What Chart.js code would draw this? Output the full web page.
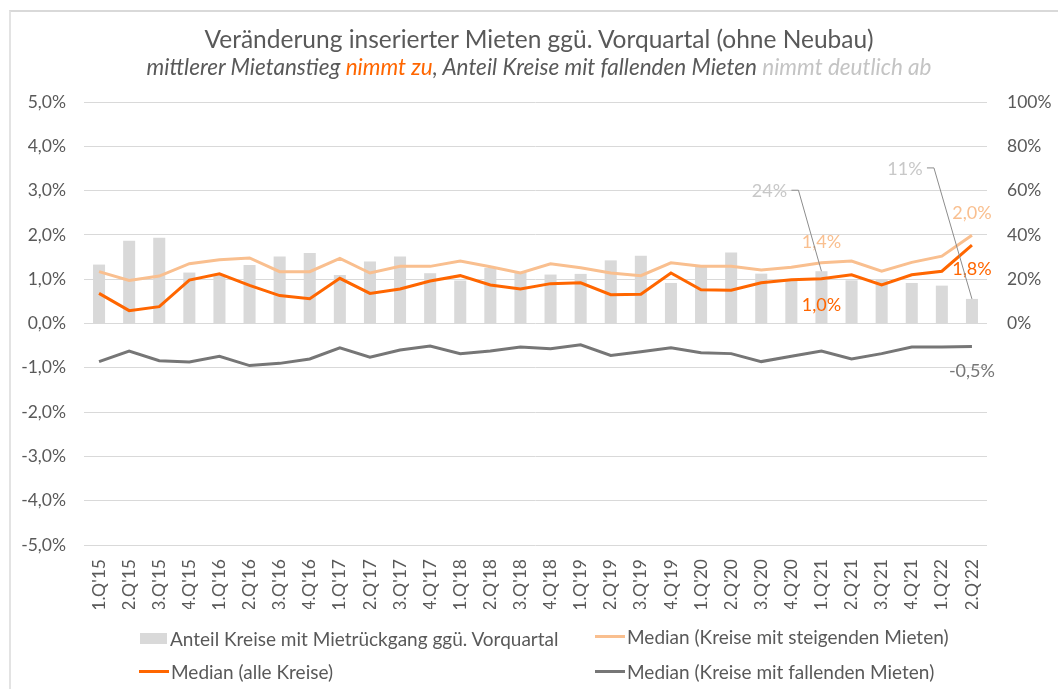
<!DOCTYPE html>
<html lang="de">
<head>
<meta charset="utf-8">
<script src="https://cdn.jsdelivr.net/npm/chart.js@4.4.0/dist/chart.umd.min.js"></script>
<style>
  html, body { margin: 0; padding: 0; background: #fff; }
  body { width: 1058px; height: 689px; position: relative; overflow: hidden; font-family: Lato, "Open Sans", sans-serif; color: #595959; }
  #frame { position: absolute; left: 9px; top: 10px; width: 1200px; height: 800px; border-left: 2px solid #e3e3e3; border-top: 2px solid #d9d9d9; }
  #wrap { position: absolute; left: 0; top: 0; width: 1058px; height: 689px; }
  .title { position: absolute; left: 0; width: 1078px; text-align: center; white-space: nowrap; }
  #t1 { top: 24px; font-size: 24.5px; }
  #t2 { top: 53px; font-size: 22.5px; font-style: italic; }
  .legend { position: absolute; font-size: 19px; white-space: nowrap; display: flex; align-items: center; height: 22px; }
  .sw-bar { width: 27px; height: 11px; background: #d9d9d9; margin-right: 3px; }
  .sw-line { width: 30px; height: 3px; margin-right: 2px; }
</style>
</head>
<body>
<div id="frame"></div>
<div id="wrap"><canvas id="rentChart" width="1058" height="689"></canvas></div>
<div class="title" id="t1">Veränderung inserierter Mieten ggü. Vorquartal (ohne Neubau)</div>
<div class="title" id="t2">mittlerer Mietanstieg <span style="color:#ff6600">nimmt zu</span>, Anteil Kreise mit fallenden Mieten <span style="color:#c4c4c4">nimmt deutlich ab</span></div>
<div class="legend" style="left:140px; top:627px;"><div class="sw-bar"></div>Anteil Kreise mit Mietrückgang ggü. Vorquartal</div>
<div class="legend" style="left:595px; top:625px;"><div class="sw-line" style="background:#f9bf8f"></div>Median (Kreise mit steigenden Mieten)</div>
<div class="legend" style="left:139px; top:660px;"><div class="sw-line" style="background:#ff6600"></div>Median (alle Kreise)</div>
<div class="legend" style="left:595px; top:660px;"><div class="sw-line" style="background:#767676"></div>Median (Kreise mit fallenden Mieten)</div>
<script>
// Quartale 1.Q'15 bis 2.Q'22
const quarters = [
  "1.Q'15", "2.Q'15", "3.Q'15", "4.Q'15", "1.Q'16", "2.Q'16", "3.Q'16", "4.Q'16",
  "1.Q'17", "2.Q'17", "3.Q'17", "4.Q'17", "1.Q'18", "2.Q'18", "3.Q'18", "4.Q'18",
  "1.Q'19", "2.Q'19", "3.Q'19", "4.Q'19", "1.Q'20", "2.Q'20", "3.Q'20", "4.Q'20",
  "1.Q'21", "2.Q'21", "3.Q'21", "4.Q'21", "1.Q'22", "2.Q'22"
];

// Anteil Kreise mit Mietrückgang (%), rechte Achse
const shareFalling = [
  26.6, 37.4, 38.7, 23.0, 22.0, 26.4, 30.3, 31.8, 21.9, 28.0,
  30.2, 22.7, 19.4, 25.1, 23.1, 22.1, 22.4, 28.5, 30.6, 18.3,
  25.8, 32.0, 22.5, 19.8, 23.6, 19.5, 20.0, 18.3, 17.1, 11.1
];

// Median Kreise mit steigenden Mieten (%)
const medianRising = [
  1.17, 0.97, 1.07, 1.35, 1.44, 1.48, 1.17, 1.17, 1.47, 1.14,
  1.29, 1.29, 1.41, 1.28, 1.14, 1.35, 1.26, 1.14, 1.08, 1.37,
  1.29, 1.29, 1.21, 1.27, 1.37, 1.41, 1.18, 1.38, 1.52, 1.99
];

// Median alle Kreise (%)
const medianAll = [
  0.68, 0.29, 0.38, 0.98, 1.12, 0.86, 0.63, 0.56, 1.02, 0.68,
  0.78, 0.96, 1.08, 0.87, 0.78, 0.90, 0.92, 0.65, 0.66, 1.14,
  0.76, 0.75, 0.92, 0.99, 1.01, 1.10, 0.87, 1.10, 1.18, 1.77
];

// Median Kreise mit fallenden Mieten (%)
const medianFalling = [
  -0.86, -0.62, -0.84, -0.87, -0.74, -0.95, -0.90, -0.80, -0.55, -0.76,
  -0.60, -0.51, -0.68, -0.62, -0.53, -0.57, -0.48, -0.72, -0.64, -0.55,
  -0.66, -0.68, -0.86, -0.74, -0.62, -0.80, -0.68, -0.53, -0.53, -0.52
];

const COLORS = {
  text: "#595959",
  grid: "#d9d9d9",
  bar: "#d9d9d9",
  rising: "#f9bf8f",
  all: "#ff6600",
  falling: "#767676",
  barLabel: "#c8c8c8",
  leader: "#8c8c8c"
};

const FONT = "Lato, 'Open Sans', sans-serif";

function fmtPct(v, digits) {
  return v.toFixed(digits).replace(".", ",") + "%";
}

// Beschriftungen der letzten Werte bzw. 1.Q'21, direkt an den Datenpunkten
const labelPlugin = {
  id: "pointLabels",
  afterDatasetsDraw(chart) {
    const ctx = chart.ctx;
    const bars = chart.getDatasetMeta(0).data;
    const rise = chart.getDatasetMeta(1).data;
    const all = chart.getDatasetMeta(2).data;
    const fall = chart.getDatasetMeta(3).data;
    const last = quarters.length - 1;
    const mid = 24;

    ctx.save();
    ctx.font = "18px " + FONT;
    ctx.textAlign = "center";
    ctx.textBaseline = "middle";

    const txt = (s, x, y, col) => { ctx.fillStyle = col; ctx.fillText(s, x, y); };

    txt(fmtPct(medianRising[mid], 1), rise[mid].x, rise[mid].y - 21, COLORS.rising);
    txt(fmtPct(medianAll[mid], 1), all[mid].x, all[mid].y + 26, COLORS.all);
    txt(fmtPct(medianRising[last], 1), rise[last].x, rise[last].y - 22, COLORS.rising);
    txt(fmtPct(medianAll[last], 1), all[last].x, all[last].y + 24, COLORS.all);
    txt(fmtPct(medianFalling[last], 1), fall[last].x, fall[last].y + 25, COLORS.falling);

    // Balkenbeschriftungen mit Führungslinie
    const leader = (i, dx, dy) => {
      const b = bars[i];
      const lx = b.x + dx, ly = b.y + dy;
      txt(Math.round(shareFalling[i]) + "%", lx, ly, COLORS.barLabel);
      ctx.strokeStyle = COLORS.leader;
      ctx.lineWidth = 1;
      ctx.beginPath();
      ctx.moveTo(lx + 22, ly - 1);
      ctx.lineTo(lx + 29, ly - 1);
      ctx.lineTo(b.x, b.y);
      ctx.stroke();
    };
    leader(mid, -52, -80);
    leader(last, -67, -130);
    ctx.restore();
  }
};

const tickFont = { family: FONT, size: 17.5 };

new Chart(document.getElementById("rentChart").getContext("2d"), {
  type: "bar",
  data: {
    labels: quarters,
    datasets: [
      { type: "bar", label: "Anteil Kreise mit Mietrückgang ggü. Vorquartal", data: shareFalling, yAxisID: "y2",
        backgroundColor: COLORS.bar, categoryPercentage: 1, barPercentage: 0.4, order: 10 },
      { type: "line", label: "Median (Kreise mit steigenden Mieten)", data: medianRising, yAxisID: "y",
        borderColor: COLORS.rising, borderWidth: 3, pointRadius: 0, tension: 0, order: 3 },
      { type: "line", label: "Median (alle Kreise)", data: medianAll, yAxisID: "y",
        borderColor: COLORS.all, borderWidth: 3, pointRadius: 0, tension: 0, order: 1 },
      { type: "line", label: "Median (Kreise mit fallenden Mieten)", data: medianFalling, yAxisID: "y",
        borderColor: COLORS.falling, borderWidth: 3, pointRadius: 0, tension: 0, order: 2 }
    ]
  },
  options: {
    responsive: false,
    animation: false,
    layout: { padding: { top: 102, bottom: 80, left: 0, right: 0 } },
    plugins: {
      legend: { display: false },
      title: { display: false },
      tooltip: { enabled: false }
    },
    scales: {
      x: {
        grid: { display: false },
        border: { display: false },
        ticks: { color: COLORS.text, font: { family: FONT, size: 17.5 }, maxRotation: 90, minRotation: 90, padding: 6, autoSkip: false },
        afterFit(s) { s.height = 64; }
      },
      y: {
        position: "left",
        min: -5, max: 5,
        grid: { color: COLORS.grid, lineWidth: 1, drawTicks: false },
        border: { display: false },
        ticks: { stepSize: 1, color: COLORS.text, font: tickFont, padding: 18, callback: v => fmtPct(v, 1) },
        afterFit(s) { s.width = 84; }
      },
      y2: {
        position: "right",
        min: -100, max: 100,
        grid: { display: false, drawTicks: false },
        border: { display: false },
        ticks: { stepSize: 20, color: COLORS.text, font: tickFont, padding: 20, callback: v => (v >= 0 ? v + "%" : "") },
        afterFit(s) { s.width = 71; }
      }
    }
  },
  plugins: [labelPlugin]
});
</script>
</body>
</html>
